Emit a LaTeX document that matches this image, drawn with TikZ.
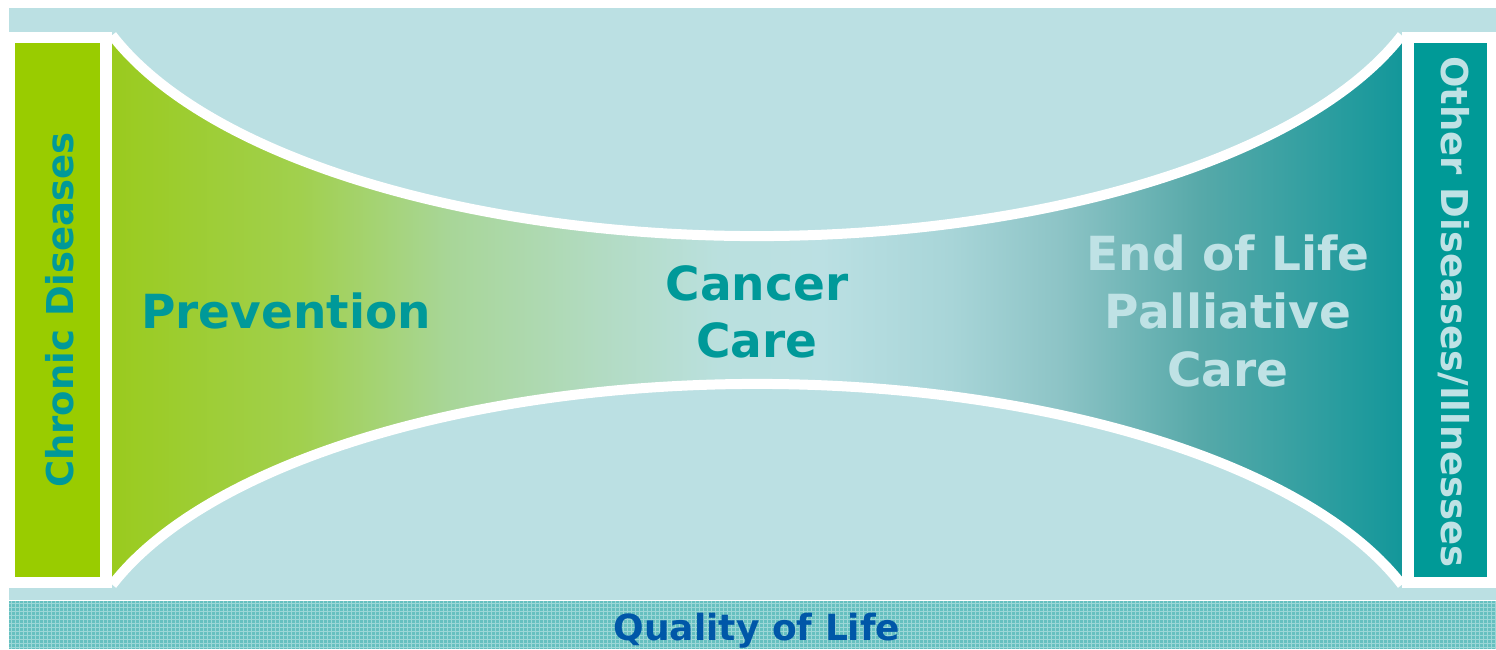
\documentclass[tikz,border=0pt]{standalone}
\usepackage{fontspec}
\setmainfont{DejaVu Sans}
\definecolor{lightbg}{HTML}{BBE0E3}
\definecolor{boxgreen}{HTML}{99CC00}
\definecolor{boxteal}{HTML}{009A97}
\definecolor{txtteal}{HTML}{009999}
\definecolor{txtlight}{HTML}{BFE2E5}
\definecolor{qolblue}{HTML}{0057A8}
\definecolor{bandbase}{HTML}{66C0C0}
\definecolor{bandline}{HTML}{9CD7D7}
\definecolor{fa}{HTML}{9ACB1E}
\definecolor{fb}{HTML}{A1D04E}
\definecolor{fc}{HTML}{A8D698}
\definecolor{fd}{HTML}{B2DBC2}
\definecolor{fe}{HTML}{BAE0DE}
\definecolor{ff}{HTML}{BBE0E3}
\definecolor{fg}{HTML}{A8D5D8}
\definecolor{fh}{HTML}{8DC4C6}
\definecolor{fi}{HTML}{57A9A9}
\definecolor{fj}{HTML}{13979A}
\pgfdeclarehorizontalshading{funnel}{100bp}{color(0bp)=(fa); color(25bp)=(fa); color(32.3bp)=(fb); color(38.1bp)=(fc); color(43.9bp)=(fd); color(48.5bp)=(fe); color(52.5bp)=(ff); color(57.5bp)=(fg); color(61.75bp)=(fh); color(67.15bp)=(fi); color(75bp)=(fj); color(100bp)=(fj)}
\tikzset{
  bigtxt/.style={font=\fontsize{47}{57}\selectfont\bfseries, text=txtteal, align=center, inner sep=0pt},
  sidetxt/.style={font=\fontsize{37}{44}\selectfont\bfseries, inner sep=0pt},
  whiteline/.style={draw=white, line width=10pt},
}
\begin{document}
\begin{tikzpicture}[x=1pt,y=-1pt]
\useasboundingbox (0,0) rectangle (1496,649);
% background
\fill[lightbg] (9,8) rectangle (1496,600);
% textured band
\fill[bandbase] (9,601) rectangle (1496,649);
\begin{scope}
\clip (9,601) rectangle (1496,649);
\foreach \i in {11,15,...,1495} \draw[bandline, line width=1pt] (\i,601) -- (\i,649);
\foreach \j in {603,607,...,647} \draw[bandline, line width=1pt] (9,\j) -- (1496,\j);
\end{scope}
% white frames
\fill[white] (9,32) rectangle (112,588);
\fill[white] (1402,32) rectangle (1496,588);
% side boxes
\fill[boxgreen] (15,43) rectangle (100,577);
\fill[boxteal] (1414,43) rectangle (1487,577);
% funnel
\shade[shading=funnel] (112.1,35.3) arc[start angle=161.5, end angle=18.5, x radius=680, y radius=294]
  -- (1401.9,584.7) arc[start angle=341.5, end angle=198.5, x radius=680, y radius=294] -- cycle;
\draw[whiteline] (112.1,35.3) arc[start angle=161.5, end angle=18.5, x radius=680, y radius=294];
\draw[whiteline] (1401.9,584.7) arc[start angle=341.5, end angle=198.5, x radius=680, y radius=294];
% texts
\node[bigtxt, anchor=base] (prev) at (286,328) {Prevention};
\node[bigtxt, anchor=base] (cancer) at (757,300) {Cancer};
\node[bigtxt, anchor=base] (care) at (757,357) {Care};
\node[bigtxt, text=txtlight, anchor=base] (eol) at (1228,270) {End of Life};
\node[bigtxt, text=txtlight, anchor=base] (pall) at (1228,328) {Palliative};
\node[bigtxt, text=txtlight, anchor=base] (pcare) at (1228,386) {Care};
\node[sidetxt, text=txtteal, rotate=90, anchor=base] (chronic) at (73,310) {Chronic Diseases};
\node[sidetxt, text=txtlight, rotate=-90, anchor=base] (other) at (1441,312) {Other Diseases/Illnesses};
\node[font=\fontsize{36}{42}\selectfont\bfseries, text=qolblue, inner sep=0pt, anchor=base] (qol) at (757,640) {Quality of Life};
\end{tikzpicture}
\end{document}
